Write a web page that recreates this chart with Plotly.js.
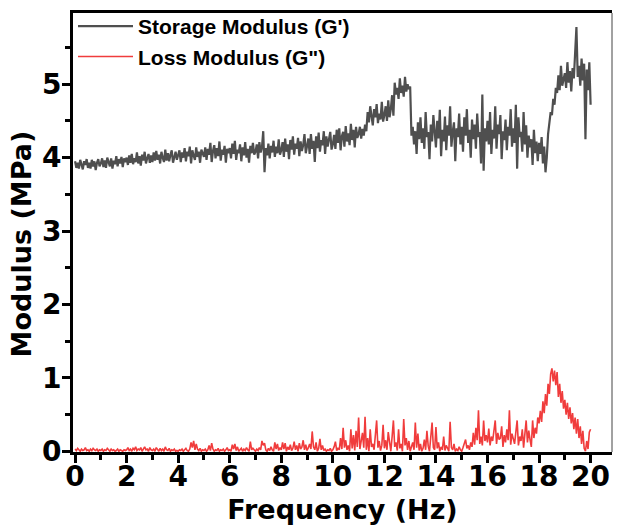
<!DOCTYPE html>
<html>
<head>
<meta charset="utf-8">
<script src="https://cdn.plot.ly/plotly-3.0.1.min.js"></script>
<style>html,body{margin:0;padding:0;background:#fff;}#chart{width:617px;height:525px;}</style>
</head>
<body>
<div id="chart"></div>
<script>
// Frequency grid: starts at 0 Hz, one reading every 0.05 Hz up to 20 Hz
const freqStart = 0;
const freqStep = 0.05;

// Storage modulus G' (MPa), one row per 1 Hz
const storageModulus = [
  3.95,3.86,3.93,3.85,3.97,3.89,3.84,3.95,3.90,3.98,3.86,3.93,3.85,3.97,3.88,3.95,3.83,3.93,3.98,3.88,
  3.92,3.99,3.87,3.96,3.86,4.00,3.93,3.88,3.99,3.85,3.96,3.91,4.02,3.88,3.98,3.92,4.01,3.87,3.99,3.94,
  4.00,3.90,4.03,3.93,4.05,3.91,3.99,3.94,4.07,3.92,4.02,3.89,4.04,3.96,4.08,3.92,3.99,4.05,3.93,4.03,
  3.94,4.07,3.96,4.09,3.97,4.04,3.92,4.08,4.00,3.94,4.11,3.96,4.06,3.95,4.04,4.10,3.93,4.02,4.08,3.97,
  4.02,4.10,3.94,4.07,4.00,4.13,3.95,4.08,4.02,4.15,3.92,4.10,4.03,3.97,4.14,4.01,4.08,3.93,4.11,4.04,
  4.01,4.14,3.97,4.12,4.04,4.20,3.94,4.09,4.17,3.99,4.13,4.02,4.22,3.96,4.11,4.04,4.16,3.93,4.12,4.06,
  4.13,3.99,4.19,4.05,4.23,3.97,4.11,4.06,4.18,3.95,4.14,4.03,4.21,4.00,4.12,3.93,4.16,4.06,4.20,4.04,
  4.08,4.18,3.99,4.21,4.07,4.14,4.36,3.80,4.13,4.03,4.19,3.99,4.16,4.07,4.23,4.01,4.15,4.06,4.25,4.04,
  4.10,4.21,4.01,4.26,4.08,4.18,3.98,4.24,4.11,4.29,4.04,4.19,4.12,4.27,4.02,4.22,4.09,4.17,4.32,4.06,
  4.15,4.26,4.05,4.32,4.12,4.23,3.94,4.29,4.13,4.34,4.08,4.24,4.17,4.36,4.05,4.29,4.15,4.25,4.35,4.11,
  4.18,4.31,4.12,4.38,4.20,4.40,4.10,4.29,4.35,4.15,4.43,4.22,4.33,4.17,4.46,4.24,4.38,4.14,4.42,4.27,
  4.32,4.42,4.26,4.39,4.30,4.45,4.36,4.62,4.48,4.70,4.52,4.44,4.66,4.55,4.73,4.47,4.60,4.52,4.76,4.49,
  4.58,4.70,4.50,4.78,4.55,4.66,4.85,4.57,5.02,4.86,4.95,4.80,5.08,4.88,4.98,4.83,5.10,4.90,5.00,4.93,
  4.97,4.30,4.42,4.18,4.36,4.05,4.48,4.25,4.55,4.20,4.40,4.12,4.62,4.28,4.35,3.98,4.45,4.22,4.58,4.30,
  4.14,4.50,4.26,4.65,4.02,4.38,4.22,4.56,4.10,4.44,4.30,4.70,4.15,4.35,4.48,3.95,4.40,4.28,4.60,4.18,
  4.42,4.08,4.55,4.30,4.66,4.20,4.38,4.00,4.52,4.25,4.45,4.12,4.60,4.28,4.35,3.92,4.86,3.82,4.40,4.22,
  4.50,4.18,4.62,4.05,4.38,4.26,4.70,4.12,4.45,4.32,4.58,3.98,4.36,4.24,4.52,4.10,4.42,4.30,4.66,4.15,
  4.40,4.20,4.72,3.85,4.55,4.28,4.35,4.08,4.62,4.18,4.44,4.00,4.30,4.14,4.25,3.90,4.38,4.06,4.22,3.95,
  4.20,4.05,4.28,3.92,4.15,3.80,4.00,4.32,4.45,4.62,4.58,4.80,4.72,4.95,4.88,5.12,4.92,5.25,4.98,5.05,
  5.15,4.95,5.30,5.02,5.18,4.90,5.22,5.08,5.40,5.78,5.10,5.25,4.98,5.35,5.05,5.28,4.25,5.20,4.92,5.30,
  4.72
];

// Loss modulus G'' (MPa), one row per 1 Hz
const lossModulus = [
  0.03,0.01,0.04,0.02,0.00,0.03,0.01,0.02,0.05,0.01,0.02,0.00,0.03,0.01,0.04,0.02,0.01,0.03,0.00,0.02,
  0.01,0.03,0.00,0.02,0.01,0.04,0.02,0.00,0.03,0.01,0.02,0.00,0.01,0.03,0.00,0.02,0.01,0.00,0.02,0.01,
  0.02,0.05,0.01,0.03,0.00,0.04,0.02,0.06,0.01,0.03,0.02,0.05,0.00,0.04,0.06,0.02,0.03,0.00,0.05,0.02,
  0.01,0.03,0.00,0.05,0.02,0.00,0.04,0.01,0.03,0.00,0.06,0.02,0.01,0.04,0.00,0.02,0.01,0.03,0.00,0.01,
  0.00,0.02,0.01,0.03,0.00,0.02,0.04,0.01,0.00,0.03,0.12,0.05,0.14,0.02,0.10,0.03,0.01,0.04,0.00,0.02,
  0.01,0.03,0.00,0.02,0.08,0.01,0.11,0.03,0.00,0.02,0.01,0.04,0.00,0.02,0.01,0.03,0.00,0.02,0.05,0.01,
  0.02,0.00,0.09,0.03,0.10,0.01,0.06,0.00,0.02,0.04,0.00,0.03,0.01,0.05,0.02,0.00,0.13,0.02,0.04,0.01,
  0.00,0.03,0.01,0.05,0.02,0.14,0.08,0.11,0.02,0.00,0.04,0.01,0.06,0.02,0.00,0.12,0.03,0.10,0.01,0.05,
  0.02,0.12,0.03,0.11,0.00,0.06,0.02,0.09,0.01,0.04,0.13,0.02,0.08,0.00,0.11,0.03,0.06,0.15,0.02,0.09,
  0.01,0.05,0.10,0.03,0.27,0.06,0.02,0.12,0.00,0.04,0.17,0.02,0.08,0.01,0.03,0.00,0.02,0.01,0.04,0.00,
  0.02,0.06,0.13,0.01,0.04,0.02,0.18,0.03,0.32,0.05,0.15,0.02,0.08,0.00,0.30,0.04,0.22,0.01,0.28,0.06,
  0.46,0.03,0.12,0.25,0.05,0.47,0.02,0.18,0.00,0.30,0.06,0.10,0.02,0.22,0.42,0.05,0.14,0.01,0.08,0.36,
  0.04,0.15,0.02,0.26,0.08,0.00,0.20,0.42,0.06,0.12,0.01,0.30,0.04,0.10,0.00,0.44,0.08,0.18,0.02,0.14,
  0.00,0.06,0.12,0.02,0.39,0.05,0.24,0.01,0.10,0.00,0.04,0.16,0.02,0.28,0.07,0.00,0.18,0.39,0.05,0.02,
  0.33,0.04,0.12,0.00,0.06,0.02,0.20,0.01,0.08,0.03,0.00,0.40,0.05,0.02,0.10,0.00,0.03,0.01,0.06,0.02,
  0.00,0.05,0.10,0.16,0.04,0.08,0.02,0.12,0.06,0.25,0.09,0.32,0.15,0.56,0.10,0.20,0.08,0.42,0.14,0.22,
  0.12,0.31,0.08,0.20,0.14,0.28,0.42,0.10,0.25,0.16,0.18,0.34,0.06,0.22,0.12,0.30,0.15,0.56,0.09,0.24,
  0.18,0.10,0.26,0.42,0.08,0.20,0.14,0.30,0.05,0.22,0.42,0.12,0.28,0.16,0.06,0.42,0.18,0.32,0.24,0.46,
  0.38,0.55,0.40,0.68,0.52,0.78,0.62,0.92,0.78,1.05,1.13,0.95,1.10,0.90,1.08,0.74,0.92,0.66,0.82,0.58,
  0.70,0.50,0.66,0.44,0.60,0.38,0.52,0.30,0.46,0.24,0.44,0.18,0.34,0.10,0.28,0.04,0.00,0.14,0.03,0.26,
  0.30
];

const seriesNames = ["Storage Modulus (G')", "Loss Modulus (G\")"];
const xTitle = "Frequency (Hz)";
const yTitle = "Modulus (MPa)";

const tickFont = {family: "DejaVu Sans, Verdana, sans-serif", size: 28, color: "#000", weight: "bold"};
const titleFont = {family: "DejaVu Sans, Verdana, sans-serif", size: 27, color: "#000", weight: "bold"};

const traces = [
  {
    type: "scatter", mode: "lines", name: seriesNames[0],
    x0: freqStart, dx: freqStep, y: storageModulus,
    line: {color: "#4f4f4f", width: 2.2}
  },
  {
    type: "scatter", mode: "lines", name: seriesNames[1],
    x0: freqStart, dx: freqStep, y: lossModulus,
    line: {color: "#f03c3c", width: 1.6}
  }
];

const layout = {
  width: 617, height: 525,
  margin: {l: 73, r: 5, t: 13, b: 73, pad: 0},
  paper_bgcolor: "#fff", plot_bgcolor: "#fff",
  showlegend: true,
  legend: {
    x: 0.0, y: 1.016, xanchor: "left", yanchor: "top",
    bgcolor: "rgba(0,0,0,0)", borderwidth: 0,
    itemwidth: 55,
    font: {family: "Liberation Sans, Arial, sans-serif", size: 21, color: "#000", weight: "bold"},
    tracegroupgap: 0
  },
  xaxis: {
    range: [-0.08, 20.83], autorange: false,
    tickmode: "linear", tick0: 0, dtick: 2,
    ticks: "outside", ticklen: 8, tickwidth: 3, tickcolor: "#000",
    minor: {dtick: 1, tick0: 0, ticks: "outside", ticklen: 5, tickwidth: 3, tickcolor: "#000", showgrid: false},
    showline: true, linewidth: 3, linecolor: "#000", mirror: true,
    showgrid: false, zeroline: false,
    tickfont: tickFont,
    ticklabelstandoff: -11,
    automargin: false,
    title: {text: xTitle, font: titleFont, standoff: 22}
  },
  yaxis: {
    range: [-0.01, 5.97], autorange: false,
    tickmode: "linear", tick0: 0, dtick: 1,
    ticks: "outside", ticklen: 8, tickwidth: 3, tickcolor: "#000",
    minor: {dtick: 0.5, tick0: 0, ticks: "outside", ticklen: 5, tickwidth: 3, tickcolor: "#000", showgrid: false},
    showline: true, linewidth: 3, linecolor: "#000", mirror: false,
    showgrid: false, zeroline: false,
    tickfont: tickFont,
    ticklabelstandoff: -5,
    automargin: false
  },
  annotations: [
    {
      text: yTitle, xref: "paper", yref: "paper", x: 0, y: 0.474,
      xanchor: "right", yanchor: "middle", xshift: -34, textangle: -90,
      showarrow: false, font: titleFont
    }
  ],
  shapes: [
    {type: "line", xref: "paper", yref: "paper", x0: 1, x1: 1, y0: 0, y1: 1, line: {color: "#444", width: 1}}
  ]
};

Plotly.newPlot("chart", traces, layout, {displayModeBar: false, staticPlot: true});
</script>
</body>
</html>
